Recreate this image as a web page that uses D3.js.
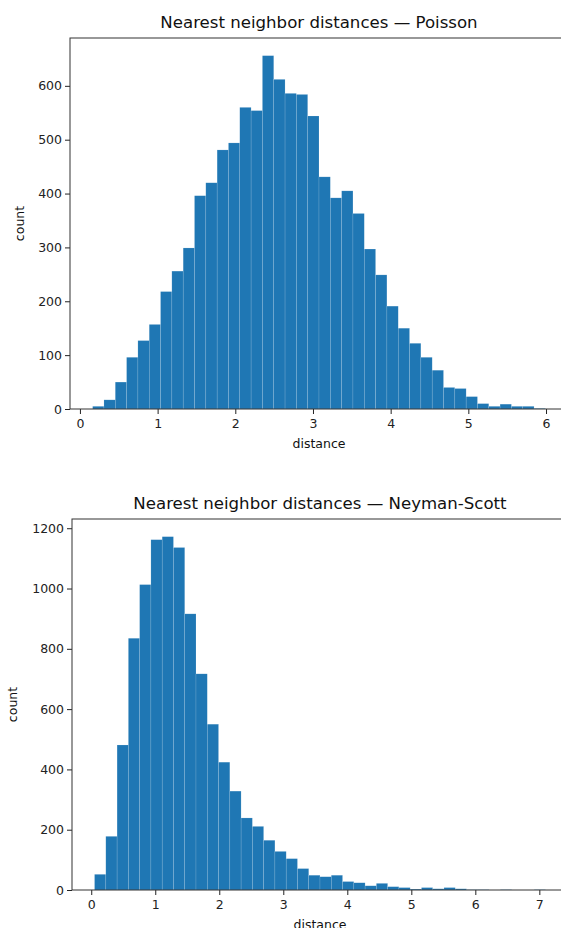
<!DOCTYPE html>
<html>
<head>
<meta charset="utf-8">
<script src="https://cdn.jsdelivr.net/npm/d3@7"></script>
<style>
  body { margin: 0; background: #fff; overflow: hidden; }
  svg { display: block; font-family: "DejaVu Sans", sans-serif; }
</style>
</head>
<body>
<div id="chart"></div>
<script>
// histogram counts (40 bins each)
const poissonCounts = [5, 17, 50, 96, 127, 157, 218, 256, 299, 396,
    420, 481, 494, 560, 554, 656, 612, 586, 584, 544,
    431, 392, 405, 363, 297, 249, 191, 150, 122, 96,
    72, 40, 38, 23, 10, 5, 9, 5, 5, 1];
const poissonBinStart = 0.1635;
const poissonBinWidth = 0.1457;

const neymanCounts = [52, 178, 481, 835, 1013, 1162, 1172, 1136, 916, 717,
    550, 424, 328, 239, 211, 165, 128, 104, 71, 49,
    44, 49, 28, 24, 14, 22, 11, 8, 3, 8,
    4, 8, 4, 1, 1, 0, 1, 0, 0, 1];
const neymanBinStart = 0.0515;
const neymanBinWidth = 0.1761;

const poissonXTicks = [0, 1, 2, 3, 4, 5, 6];
const poissonYTicks = [0, 100, 200, 300, 400, 500, 600];
const neymanXTicks = [0, 1, 2, 3, 4, 5, 6, 7];
const neymanYTicks = [0, 200, 400, 600, 800, 1000, 1200];

const W = 561, H = 928;
const svg = d3.select('#chart')
    .append('svg')
    .attr('width', W)
    .attr('height', H);

function drawHist(opts) {
    const { counts, start, width, title, xTicks, yTicks, left, top, right, bottom, ylabelX } = opts;
    const bins = counts.map((c, i) => ({ x0: start + i * width, x1: start + (i + 1) * width, count: c }));

    // matplotlib-like 5% margins
    const dMin = bins[0].x0, dMax = bins[bins.length - 1].x1;
    const pad = (dMax - dMin) * 0.05;
    const x = d3.scaleLinear().domain([dMin - pad, dMax + pad]).range([left, right]);
    const y = d3.scaleLinear().domain([0, d3.max(counts) * 1.05]).range([bottom, top]);

    const g = svg.append('g');

    g.selectAll('rect.bar')
        .data(bins)
        .join('rect')
        .attr('class', 'bar')
        .attr('x', d => x(d.x0))
        .attr('y', d => y(d.count))
        .attr('width', d => x(d.x1) - x(d.x0))
        .attr('height', d => y(0) - y(d.count))
        .attr('fill', '#1f77b4')
        .attr('stroke', '#ffffff')
        .attr('stroke-opacity', 0.25)
        .attr('stroke-width', 0.5);

    // x axis
    const xAxis = g.append('g')
        .attr('transform', `translate(0,${bottom})`)
        .call(d3.axisBottom(x).tickValues(xTicks).tickFormat(d3.format('d')).tickSize(5).tickSizeOuter(0));
    xAxis.select('.domain').remove();
    xAxis.selectAll('line').attr('stroke', '#222');
    xAxis.selectAll('text').attr('font-size', 12.5).attr('fill', '#222').attr('dy', '0.9em')
        .attr('font-family', 'DejaVu Sans');

    // y axis
    const yAxis = g.append('g')
        .attr('transform', `translate(${left},0)`)
        .call(d3.axisLeft(y).tickValues(yTicks).tickFormat(d3.format('d')).tickSize(5).tickSizeOuter(0));
    yAxis.select('.domain').remove();
    yAxis.selectAll('line').attr('stroke', '#222');
    yAxis.selectAll('text').attr('font-size', 12.5).attr('fill', '#222').attr('font-family', 'DejaVu Sans');

    // spines
    g.append('rect')
        .attr('x', left)
        .attr('y', top)
        .attr('width', right - left)
        .attr('height', bottom - top)
        .attr('fill', 'none')
        .attr('stroke', '#333')
        .attr('stroke-width', 1);

    g.append('text')
        .attr('x', (left + right) / 2)
        .attr('y', top - 10)
        .attr('text-anchor', 'middle')
        .attr('font-size', 16.6)
        .attr('fill', '#111')
        .text(title);

    g.append('text')
        .attr('x', (left + right) / 2)
        .attr('y', bottom + 39)
        .attr('text-anchor', 'middle')
        .attr('font-size', 12.5)
        .attr('fill', '#111')
        .text('distance');

    g.append('text')
        .attr('transform', `translate(${ylabelX},${(top + bottom) / 2}) rotate(-90)`)
        .attr('text-anchor', 'middle')
        .attr('dy', '0.35em')
        .attr('font-size', 12.5)
        .attr('fill', '#111')
        .text('count');
}

drawHist({
    counts: poissonCounts, start: poissonBinStart, width: poissonBinWidth,
    title: 'Nearest neighbor distances — Poisson',
    xTicks: poissonXTicks, yTicks: poissonYTicks,
    left: 70, top: 38, right: 568, bottom: 409, ylabelX: 20
});

drawHist({
    counts: neymanCounts, start: neymanBinStart, width: neymanBinWidth,
    title: 'Nearest neighbor distances — Neyman-Scott',
    xTicks: neymanXTicks, yTicks: neymanYTicks,
    left: 72, top: 519, right: 568, bottom: 890, ylabelX: 13
});
</script>
</body>
</html>
